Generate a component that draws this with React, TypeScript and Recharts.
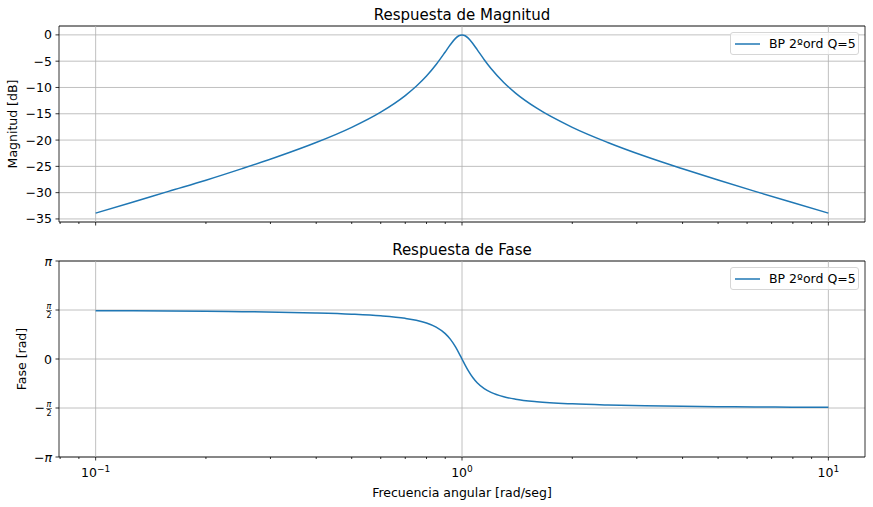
import { LineChart, Line, XAxis, YAxis, CartesianGrid, ReferenceLine, ReferenceArea, Legend } from 'recharts';

// frequency samples [rad/s] and the response
const freq = [0.1, 0.126, 0.158, 0.2, 0.251, 0.316, 0.398, 0.5, 0.6, 0.7, 0.75, 0.8, 0.85, 0.9, 0.93, 0.96, 0.98, 1, 1.02, 1.04, 1.07, 1.1, 1.15, 1.2, 1.3, 1.4, 1.6, 2, 2.5, 3.16, 4, 5, 6.31, 7.94, 10];
const magDb = [-33.89, -31.84, -29.76, -27.63, -25.43, -23.09, -20.52, -17.58, -14.69, -11.54, -9.78, -7.83, -5.64, -3.25, -1.84, -0.67, -0.17, 0, -0.17, -0.62, -1.64, -2.81, -4.72, -6.4, -9.05, -11.06, -13.94, -17.58, -20.46, -23.09, -25.47, -27.61, -29.76, -31.84, -33.89];
const phaseRad = [1.5506, 1.5452, 1.5383, 1.5293, 1.5172, 1.5006, 1.4765, 1.4382, 1.3854, 1.3029, 1.2405, 1.1526, 1.0211, 0.8123, 0.628, 0.3875, 0.1994, 0, -0.1956, -0.3738, -0.595, -0.7622, -0.951, -1.0714, -1.2103, -1.287, -1.3685, -1.4382, -1.4758, -1.5006, -1.5175, -1.5292, -1.5383, -1.5452, -1.5506];

const majorX = [0.1, 1, 10];
const minorX = [0.08, 0.09, 0.2, 0.3, 0.4, 0.5, 0.6, 0.7, 0.8, 0.9, 2, 3, 4, 5, 6, 7, 8, 9];
const magTicks = [0, -5, -10, -15, -20, -25, -30, -35];
const PI = Math.PI;
const phaseTicks = [-PI, -PI / 2, 0, PI / 2, PI];
const seriesName = 'BP 2ºord Q=5';

const data = freq.map((w, i) => ({ w, mag: magDb[i], phase: phaseRad[i] }));

const X_DOMAIN: [number, number] = [0.07943, 12.589];
const MAG_DOMAIN: [number, number] = [-35.58, 1.69];
const PH_DOMAIN: [number, number] = [-PI, PI];

const BLUE = '#1f77b4';
const GRID = '#b0b0b0';
const FONT = 'DejaVu Sans, sans-serif';
const W = 873;

const XTick = (props: any) => {
  const { x, y, payload, showLabel } = props;
  const major = majorX.includes(payload.value);
  const exp = Math.round(Math.log10(payload.value));
  return (
    <g>
      <line x1={x} x2={x} y1={y} y2={y + (major ? 3.5 : 2)} stroke="#000" strokeWidth={0.8} />
      {showLabel && major && (
        <text x={x} y={y + 20} textAnchor="middle" fontSize={12.5} fontFamily={FONT} fill="#000">
          <tspan>10</tspan>
          <tspan dy={-5} fontSize={9}>{exp < 0 ? `−${-exp}` : exp}</tspan>
        </text>
      )}
    </g>
  );
};

const MagTick = (props: any) => {
  const { x, y, payload } = props;
  const v = payload.value;
  return (
    <g>
      <line x1={x} x2={x - 3.5} y1={y} y2={y} stroke="#000" strokeWidth={0.8} />
      <text x={x - 7} y={y + 4.5} textAnchor="end" fontSize={12.5} fontFamily={FONT} fill="#000">
        {v < 0 ? `−${-v}` : v}
      </text>
    </g>
  );
};

const PhaseTick = (props: any) => {
  const { x, y, payload } = props;
  const v = payload.value;
  const neg = v < 0;
  const half = Math.abs(Math.abs(v) - PI / 2) < 1e-6;
  const tx = x - 7;
  let label;
  if (v === 0) {
    label = (
      <text x={tx} y={y + 4.5} textAnchor="end" fontSize={12.5} fontFamily={FONT}>0</text>
    );
  } else if (!half) {
    label = (
      <text x={tx} y={y + 4.5} textAnchor="end" fontSize={12.5} fontFamily={FONT}>
        {neg ? '−' : ''}
        <tspan fontStyle="italic">π</tspan>
      </text>
    );
  } else {
    label = (
      <g fontFamily={FONT}>
        {neg && (
          <text x={tx - 7} y={y + 4} textAnchor="end" fontSize={12.5}>−</text>
        )}
        <text x={tx - 3} y={y - 1} textAnchor="middle" fontSize={8} fontStyle="italic">π</text>
        <line x1={tx - 6} x2={tx} y1={y + 0.5} y2={y + 0.5} stroke="#000" strokeWidth={0.5} />
        <text x={tx - 3} y={y + 7.5} textAnchor="middle" fontSize={8}>2</text>
      </g>
    );
  }
  return (
    <g>
      <line x1={x} x2={x - 3.5} y1={y} y2={y} stroke="#000" strokeWidth={0.8} />
      {label}
    </g>
  );
};

const LegendBox = () => (
  <div
    style={{
      boxSizing: 'border-box',
      width: 129,
      height: 23,
      border: '1px solid #d6d6d6',
      borderRadius: 3,
      background: 'rgba(255,255,255,0.8)',
      display: 'flex',
      alignItems: 'center',
      fontFamily: FONT,
      fontSize: 12.5,
      color: '#000',
    }}
  >
    <svg width={38} height={10} style={{ display: 'block' }}>
      <line x1={4} x2={29} y1={5} y2={5} stroke={BLUE} strokeWidth={1.5} />
    </svg>
    <span style={{ whiteSpace: 'nowrap' }}>{seriesName}</span>
  </div>
);

const YLabel = ({ text, x, cy }: { text: string; x: number; cy: number }) => (
  <text x={x} y={cy} transform={`rotate(-90 ${x} ${cy})`} textAnchor="middle" fontSize={12.5} fontFamily={FONT} fill="#000">
    {text}
  </text>
);

const Title = ({ text, top }: { text: string; top: number }) => (
  <div
    style={{
      position: 'absolute',
      top,
      left: 59,
      width: 806,
      textAlign: 'center',
      fontFamily: FONT,
      fontSize: 15,
      color: '#000',
    }}
  >
    {text}
  </div>
);

export default function App() {
  return (
    <div style={{ position: 'absolute', left: 0, top: 0, width: W, height: 507, background: '#fff' }}>
      <Title text="Respuesta de Magnitud" top={6} />
      <Title text="Respuesta de Fase" top={241} />

      {/* magnitude */}
      <div style={{ position: 'absolute', left: 0, top: 0 }}>
        <LineChart width={W} height={240} data={data} margin={{ top: 26, right: 8, left: 0, bottom: 0 }}>
          <CartesianGrid vertical={false} stroke={GRID} strokeWidth={0.8} />
          {majorX.map((v) => (
            <ReferenceLine key={v} x={v} stroke={GRID} strokeWidth={0.8} />
          ))}
          <XAxis
            dataKey="w"
            type="number"
            scale="log"
            domain={X_DOMAIN}
            allowDataOverflow
            ticks={[...majorX, ...minorX]}
            interval={0}
            height={18}
            tickSize={0}
            tickMargin={0}
            tickLine={false}
            axisLine={false}
            tick={<XTick showLabel={false} />}
          />
          <YAxis
            type="number"
            domain={MAG_DOMAIN}
            allowDataOverflow
            ticks={magTicks}
            interval={0}
            width={59}
            tickSize={0}
            tickMargin={0}
            tickLine={false}
            axisLine={false}
            tick={<MagTick />}
            label={{ content: (p: any) => <YLabel text="Magnitud [dB]" x={17} cy={p.viewBox.y + p.viewBox.height / 2} /> }}
          />
          <ReferenceArea x1={X_DOMAIN[0]} x2={X_DOMAIN[1]} y1={MAG_DOMAIN[0]} y2={MAG_DOMAIN[1]} fill="none" stroke="#000" strokeWidth={0.8} />
          <Line type="monotone" dataKey="mag" name={seriesName} stroke={BLUE} strokeWidth={1.5} dot={false} isAnimationActive={false} />
          <Legend layout="horizontal" verticalAlign="middle" content={<LegendBox />} wrapperStyle={{ left: 730, top: 32, width: 129 }} />
        </LineChart>
      </div>

      {/* phase */}
      <div style={{ position: 'absolute', left: 0, top: 240 }}>
        <LineChart width={W} height={267} data={data} margin={{ top: 21, right: 8, left: 0, bottom: 0 }}>
          <CartesianGrid vertical={false} stroke={GRID} strokeWidth={0.8} />
          {majorX.map((v) => (
            <ReferenceLine key={v} x={v} stroke={GRID} strokeWidth={0.8} />
          ))}
          <XAxis
            dataKey="w"
            type="number"
            scale="log"
            domain={X_DOMAIN}
            allowDataOverflow
            ticks={[...majorX, ...minorX]}
            interval={0}
            height={50}
            tickSize={0}
            tickMargin={0}
            tickLine={false}
            axisLine={false}
            tick={<XTick showLabel />}
            label={{ content: (p: any) => (
              <text x={p.viewBox.x + p.viewBox.width / 2} y={p.viewBox.y + 40} textAnchor="middle" fontSize={12.5} fontFamily={FONT} fill="#000">
                Frecuencia angular [rad/seg]
              </text>
            ) }}
          />
          <YAxis
            type="number"
            domain={PH_DOMAIN}
            allowDataOverflow
            ticks={phaseTicks}
            interval={0}
            width={59}
            tickSize={0}
            tickMargin={0}
            tickLine={false}
            axisLine={false}
            tick={<PhaseTick />}
            label={{ content: (p: any) => <YLabel text="Fase [rad]" x={26} cy={p.viewBox.y + p.viewBox.height / 2} /> }}
          />
          <ReferenceArea x1={X_DOMAIN[0]} x2={X_DOMAIN[1]} y1={PH_DOMAIN[0]} y2={PH_DOMAIN[1]} fill="none" stroke="#000" strokeWidth={0.8} />
          <Line type="monotone" dataKey="phase" name={seriesName} stroke={BLUE} strokeWidth={1.5} dot={false} isAnimationActive={false} />
          <Legend layout="horizontal" verticalAlign="middle" content={<LegendBox />} wrapperStyle={{ left: 730, top: 27, width: 129 }} />
        </LineChart>
      </div>
    </div>
  );
}
